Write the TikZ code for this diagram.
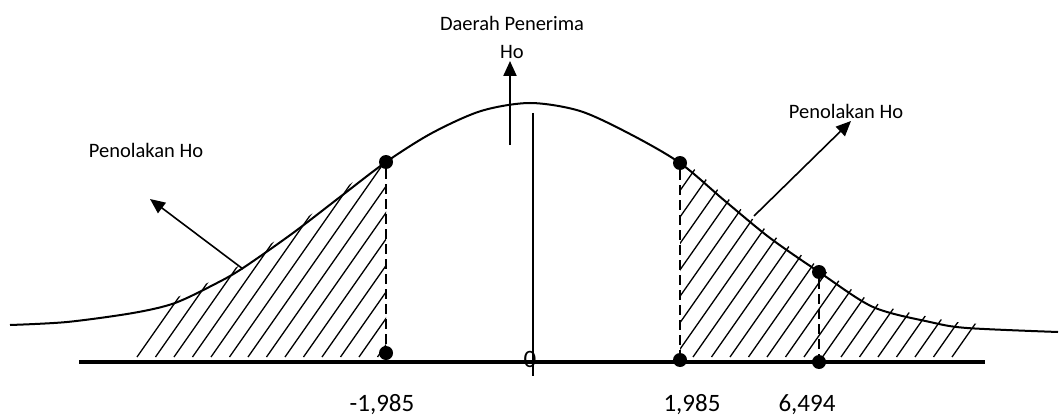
\documentclass[tikz,border=0pt]{standalone}
\usepackage{fontspec}
\setmainfont{Carlito}
\usetikzlibrary{arrows.meta}
\newcommand\bellpath{plot[smooth,tension=0.5] coordinates {(10,325) (67,322) (133,313) (175,303) (217,283) (243,268) (293,233) (340,197) (386,162) (432,133) (481,111) (530,103) (580,111) (630,134) (680,163) (725,201) (770,238) (819,272) (873,307) (930,322) (967,328) (1058,332)}}
\tikzset{
  curve/.style={line width=2pt},
  hatchline/.style={line width=1.3pt},
  dot/.style={circle,fill=black,inner sep=0pt,minimum size=14pt},
  dashline/.style={line width=1.4pt,dash pattern=on 10pt off 5pt},
  lbl/.style={font=\fontsize{20.5}{22}\selectfont,inner sep=0pt},
  num/.style={font=\fontsize{25}{27}\selectfont,inner sep=0pt},
  pointer/.style={line width=1.6pt,-{Triangle[length=15pt,width=13pt]}},
}
\begin{document}
\begin{tikzpicture}[x=1pt,y=-1pt]
\useasboundingbox (0,0) rectangle (1059,417);
% hatching left
\begin{scope}
  \clip (0,0) rectangle (386,357);
  \clip[yshift=5pt] \bellpath -- (1058,600) -- (10,600) -- cycle;
  \foreach \b in {137,155.5,...,400} \draw[hatchline] (\b,357) -- ++(140,-200);
\end{scope}
% hatching right
\begin{scope}
  \clip (680,0) rectangle (1059,357);
  \clip[yshift=5pt] \bellpath -- (1058,600) -- (10,600) -- cycle;
  \foreach \b in {545,563.5,...,966} \draw[hatchline] (\b,357) -- ++(140,-200);
\end{scope}
% curve
\draw[curve] \bellpath;
% baseline
\coordinate (bl) at (79,362);
\coordinate (br) at (985,362);
\draw[line width=4.5pt] (bl) -- (br);
% center line
\coordinate (ctop) at (533,113);
\coordinate (cbot) at (533,376);
\draw[line width=1.3pt] (ctop) -- (cbot);
% dots
\node[dot] (lt) at (386,162) {};
\node[dot] (lb) at (386,353) {};
\node[dot] (rt) at (680,163) {};
\node[dot] (rb) at (680,360) {};
\node[dot] (mt) at (819,272) {};
\node[dot] (mb) at (819,362) {};
\draw[dashline] (lt) -- (lb);
\draw[dashline] (rt) -- (rb);
\draw[dashline] (mt) -- (mb);
% labels
\node[lbl] (daerah) at (512,23) {Daerah Penerima};
\node[lbl] (ho) at (512,52) {Ho};
\node[lbl] (penL) at (146,150) {Penolakan Ho};
\node[lbl] (penR) at (846,111) {Penolakan Ho};
\node[num] (zero) at (530,359) {0};
\node[num] (n1) at (382,405) {-1,985};
\node[num] (n2) at (692,405) {1,985};
\node[num] (n3) at (807,405) {6,494};
% arrows
\coordinate (upS) at (510,145);
\coordinate (upE) at (510,61);
\draw[pointer,line width=2.2pt] (upS) -- (upE);
\coordinate (lS) at (243,269);
\coordinate (lE) at (150,199);
\draw[pointer] (lS) -- (lE);
\coordinate (rS) at (754,216);
\coordinate (rE) at (851,121);
\draw[pointer] (rS) -- (rE);
\end{tikzpicture}
\end{document}
